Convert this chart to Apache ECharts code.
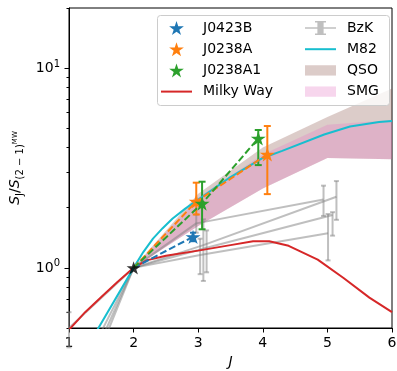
<!DOCTYPE html>
<html>
<head>
<meta charset="utf-8">
<script src="https://cdn.jsdelivr.net/npm/echarts@6/dist/echarts.min.js"></script>
<style>
  html, body { margin: 0; padding: 0; background: #fff; }
  #chart { width: 397px; height: 371px; }
</style>
</head>
<body>
<div id="chart"></div>
<script>
// ---- data ----
const xTicks = [1, 2, 3, 4, 5, 6];
const yMajor = [1, 10];
const yMinor = [0.5, 0.6, 0.7, 0.8, 0.9, 2, 3, 4, 5, 6, 7, 8, 9, 20];

// reference point (CO 2-1 normalisation)
const refPoint = [[2, 1]];

// our sources: [J, ratio] and error bars [J, low, high]
const j0423b = [[2.92, 1.43]];
const j0423bErr = [[2.92, 1.36, 1.50]];
const j0238a = [[2.97, 2.15], [4.07, 3.70]];
const j0238aErr = [[2.97, 1.85, 2.67], [4.07, 2.34, 5.13]];
const j0238a1 = [[3.06, 2.10], [3.93, 4.45]];
const j0238a1Err = [[3.06, 1.56, 2.70], [3.93, 3.27, 4.90]];

// BzK galaxies (J = 1, 2, 3, 5, slightly offset in J)
const bzk1 = [[1.0, 0.50], [2, 1], [2.97, 1.67], [4.94, 2.20]];
const bzk2 = [[1.0, 0.23], [2, 1], [3.08, 1.30], [5.14, 2.27]];
const bzk3 = [[1.0, 0.19], [2, 1], [3.13, 1.26], [5.08, 1.84]];
const bzk4 = [[1.0, 0.16], [2, 1], [3.03, 1.16], [5.01, 1.49]];
const bzkErr = [
  [1.0, 0.40, 0.60],
  [2.97, 1.50, 1.85], [3.08, 0.86, 1.75], [3.13, 0.95, 1.54], [3.03, 0.93, 1.40],
  [4.94, 1.82, 2.58], [5.14, 1.74, 2.72], [5.08, 1.45, 1.90], [5.01, 1.09, 1.86]
];

// Milky Way and M82 SLEDs
const milkyWay = [[1, 0.49], [1.25, 0.60], [1.5, 0.715], [1.75, 0.85], [2, 1], [2.2, 1.09], [2.5, 1.15],
  [3, 1.22], [3.5, 1.30], [3.85, 1.36], [4.1, 1.36], [4.4, 1.29], [4.85, 1.10], [5.25, 0.89],
  [5.65, 0.71], [6, 0.60]];
const m82 = [[1, 0.28], [2, 1], [2.15, 1.2], [2.3, 1.4], [2.45, 1.58], [2.6, 1.76], [2.8, 1.98],
  [3, 2.2], [3.5, 2.85], [4, 3.55], [4.3, 3.85], [4.95, 4.65], [5.35, 5.1], [5.8, 5.38], [6, 5.43]];

// QSO / SMG ranges
const bandJ = [2, 3, 4, 5, 6];
const qsoLow = [1, 1.62, 2.5, 3.55, 3.5];
const qsoHigh = [1, 2.35, 4.0, 5.7, 7.9];
const smgLow = [1, 1.62, 2.5, 3.55, 3.5];
const smgHigh = [1, 2.25, 3.7, 5.2, 5.5];

// ---- styling ----
const FONT = 'DejaVu Sans';
const C_BLUE = '#1f77b4', C_ORANGE = '#ff7f0e', C_GREEN = '#2ca02c', C_RED = '#d62728', C_CYAN = '#17becf';
const C_GREY = 'rgba(128,128,128,0.5)';
const C_QSO = 'rgba(140,86,75,0.3)';
const C_SMG = 'rgba(227,119,194,0.3)';
const LW = 2;

const STAR = 'path://M0,-10 L2.245,-3.09 L9.511,-3.09 L3.633,1.18 L5.878,8.09 L0,3.82 L-5.878,8.09 L-3.633,1.18 L-9.511,-3.09 L-2.245,-3.09 Z';
const LINE_ICON = 'path://M0,0 H31 V2 H0 Z';
const PATCH_ICON = 'path://M0,0 H30 V10 H0 Z';
const ERR_ICON = 'path://M0,6.2 H12.4 V1.4 H10 V0 H21 V1.4 H18.6 V6.2 H31 V7.8 H18.6 V12.6 H21 V14 H10 V12.6 H12.4 V7.8 H0 Z';

const chart = echarts.init(document.getElementById('chart'), null, { renderer: 'canvas' });

function errBars(data, color, cap, width) {
  return {
    type: 'custom',
    data: data,
    z: 3,
    encode: { x: 0, y: [1, 2] },
    renderItem: function (params, api) {
      const x = api.value(0);
      const lo = api.coord([x, api.value(1)]);
      const hi = api.coord([x, api.value(2)]);
      const style = { stroke: color, lineWidth: width, fill: null };
      return {
        type: 'group',
        children: [
          { type: 'line', shape: { x1: lo[0], y1: lo[1], x2: hi[0], y2: hi[1] }, style: style },
          { type: 'line', shape: { x1: lo[0] - cap, y1: lo[1], x2: lo[0] + cap, y2: lo[1] }, style: style },
          { type: 'line', shape: { x1: hi[0] - cap, y1: hi[1], x2: hi[0] + cap, y2: hi[1] }, style: style }
        ]
      };
    }
  };
}

function band(name, low, high, color) {
  return {
    type: 'custom',
    name: name,
    data: [[bandJ[0], low[0]]],
    z: 1,
    symbolKeepAspect: true,
    itemStyle: { color: color },
    renderItem: function (params, api) {
      const pts = [];
      for (let i = 0; i < bandJ.length; i++) pts.push(api.coord([bandJ[i], high[i]]));
      for (let i = bandJ.length - 1; i >= 0; i--) pts.push(api.coord([bandJ[i], low[i]]));
      return { type: 'polygon', shape: { points: pts }, style: { fill: color } };
    }
  };
}

function bzkLine(data) {
  return {
    type: 'line', name: 'BzK', data: data, z: 2,
    symbol: 'none', symbolKeepAspect: true,
    itemStyle: { color: C_GREY },
    lineStyle: { color: C_GREY, width: LW }
  };
}

function dashed(data, color) {
  return {
    type: 'line', data: data, z: 4, symbol: 'none',
    lineStyle: { color: color, width: LW, type: [7, 3] }
  };
}

function stars(name, data, color) {
  return {
    type: 'scatter', name: name, data: data, z: 6,
    symbol: STAR, symbolSize: 15, symbolKeepAspect: true,
    itemStyle: { color: color, opacity: 1 }
  };
}

const legendCommon = {
  orient: 'vertical',
  top: 21,
  padding: 0,
  itemWidth: 31,
  itemHeight: 14,
  itemGap: 7.2,
  z: 20,
  selectedMode: false,
  textStyle: { fontFamily: FONT, fontSize: 14, color: '#000', padding: [0, 0, 0, 6] }
};

chart.setOption({
  animation: false,
  backgroundColor: '#fff',
  grid: {
    left: 69, right: 5, top: 8, bottom: 43, show: true, borderColor: '#000', borderWidth: 1,
    outerBoundsMode: 'none', containLabel: false
  },
  legend: [
    Object.assign({}, legendCommon, {
      left: 161,
      data: [
        { name: 'J0423B', icon: STAR, itemStyle: { color: C_BLUE } },
        { name: 'J0238A', icon: STAR, itemStyle: { color: C_ORANGE } },
        { name: 'J0238A1', icon: STAR, itemStyle: { color: C_GREEN } },
        { name: 'Milky Way', icon: LINE_ICON, itemStyle: { color: C_RED } }
      ]
    }),
    Object.assign({}, legendCommon, {
      left: 305,
      data: [
        { name: 'BzK', icon: ERR_ICON, itemStyle: { color: C_GREY } },
        { name: 'M82', icon: LINE_ICON, itemStyle: { color: C_CYAN } },
        { name: 'QSO', icon: PATCH_ICON, itemStyle: { color: C_QSO } },
        { name: 'SMG', icon: PATCH_ICON, itemStyle: { color: C_SMG } }
      ]
    })
  ],
  graphic: [{
    type: 'rect', z: 15, left: 157, top: 15,
    shape: { width: 232, height: 90, r: 3 },
    style: { fill: 'rgba(255,255,255,0.8)', stroke: '#cccccc', lineWidth: 1 }
  }],
  xAxis: {
    type: 'value', min: 1, max: 6, interval: 1,
    name: 'J', nameLocation: 'middle', nameGap: 27,
    nameTextStyle: { fontFamily: FONT, fontSize: 14, fontStyle: 'italic', color: '#000' },
    axisLine: { lineStyle: { color: '#000', width: 1 } },
    axisTick: { inside: false, length: 4.5, lineStyle: { color: '#000' } },
    axisLabel: { fontFamily: FONT, fontSize: 14, color: '#000', margin: 8, customValues: xTicks },
    splitLine: { show: false }
  },
  yAxis: [
    {
      type: 'log', logBase: 10, min: 0.5, max: 20,
      name: '{i|S}{s|J}{n|/}{i|S}{s|(2 − 1)}{t|MW}',
      nameLocation: 'middle', nameGap: 44, nameRotate: 90,
      nameTextStyle: {
        fontFamily: FONT, color: '#000',
        rich: {
          i: { fontFamily: FONT, fontSize: 14, fontStyle: 'italic', lineHeight: 20, verticalAlign: 'middle' },
          n: { fontFamily: FONT, fontSize: 14, lineHeight: 20, verticalAlign: 'middle' },
          s: { fontFamily: FONT, fontSize: 10, lineHeight: 10, verticalAlign: 'bottom' },
          t: { fontFamily: FONT, fontSize: 7, lineHeight: 7, verticalAlign: 'middle' }
        }
      },
      axisLine: { show: true, lineStyle: { color: '#000', width: 1 } },
      axisTick: { inside: false, length: 4.5, lineStyle: { color: '#000' }, customValues: yMajor },
      axisLabel: {
        margin: 9, customValues: yMajor,
        formatter: function (v) { return '{b|10}{e|' + Math.round(Math.log10(v)) + '}'; },
        rich: {
          b: { fontFamily: FONT, fontSize: 14, color: '#000', lineHeight: 18, verticalAlign: 'middle' },
          e: { fontFamily: FONT, fontSize: 10, color: '#000', lineHeight: 10, verticalAlign: 'top' }
        }
      },
      splitLine: { show: false },
      minorTick: { show: false }
    },
    {
      type: 'log', logBase: 10, min: 0.5, max: 20, position: 'left',
      axisLine: { show: false },
      axisTick: { inside: false, length: 2.5, lineStyle: { color: '#000' }, customValues: yMinor },
      axisLabel: { show: false },
      splitLine: { show: false }
    }
  ],
  series: [
    band('QSO', qsoLow, qsoHigh, C_QSO),
    band('SMG', smgLow, smgHigh, C_SMG),
    bzkLine(bzk1), bzkLine(bzk2), bzkLine(bzk3), bzkLine(bzk4),
    errBars(bzkErr, C_GREY, 2.5, LW),
    {
      type: 'line', name: 'Milky Way', data: milkyWay, z: 3, symbol: 'none', symbolKeepAspect: true,
      itemStyle: { color: C_RED }, lineStyle: { color: C_RED, width: LW }
    },
    {
      type: 'line', name: 'M82', data: m82, z: 3, symbol: 'none', symbolKeepAspect: true,
      itemStyle: { color: C_CYAN }, lineStyle: { color: C_CYAN, width: LW }
    },
    dashed([refPoint[0]].concat(j0423b), C_BLUE),
    dashed([refPoint[0]].concat(j0238a), C_ORANGE),
    dashed([refPoint[0]].concat(j0238a1), C_GREEN),
    errBars(j0423bErr, C_BLUE, 3, LW),
    errBars(j0238aErr, C_ORANGE, 3.5, LW),
    errBars(j0238a1Err, C_GREEN, 3.5, LW),
    stars('J0423B', j0423b, C_BLUE),
    stars('J0238A', j0238a, C_ORANGE),
    stars('J0238A1', j0238a1, C_GREEN),
    {
      type: 'scatter', data: refPoint, z: 7, symbol: STAR, symbolSize: 14, symbolKeepAspect: true,
      itemStyle: { color: '#000' }
    }
  ]
});
</script>
</body>
</html>
